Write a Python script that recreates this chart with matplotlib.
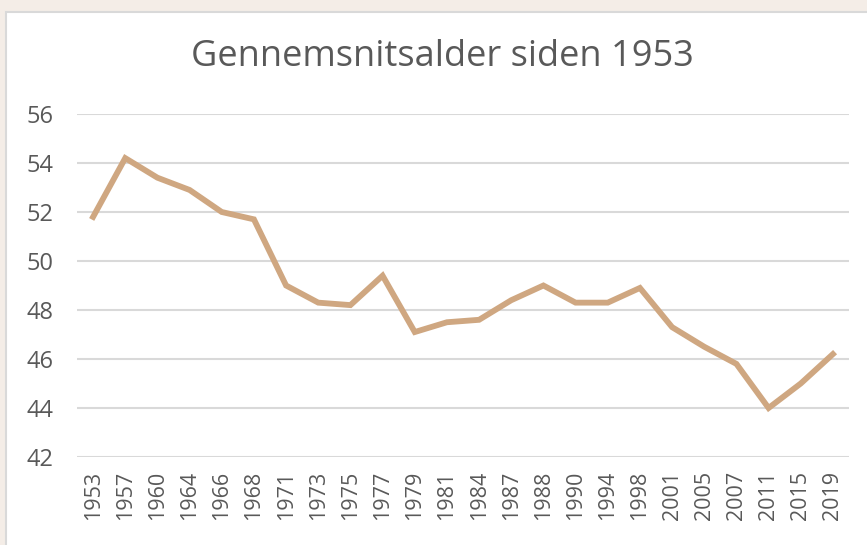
import matplotlib.pyplot as plt
from matplotlib.patches import Rectangle

###Chart data
years = ["1953", "1957", "1960", "1964", "1966", "1968", "1971", "1973", "1975", "1977",
         "1979", "1981", "1984", "1987", "1988", "1990", "1994", "1998", "2001", "2005",
         "2007", "2011", "2015", "2019"]
avg_age = [51.8, 54.2, 53.4, 52.9, 52.0, 51.7, 49.0, 48.3, 48.2, 49.4,
           47.1, 47.5, 47.6, 48.4, 49.0, 48.3, 48.3, 48.9, 47.3, 46.5,
           45.8, 44.0, 45.0, 46.2]
y_ticks = [42, 44, 46, 48, 50, 52, 54, 56]
title = "Gennemsnitsalder siden 1953"

###Styles
bg_color = '#F4EDE7'
line_color = '#CFA781'
text_color = '#595959'
grid_color = '#D9D9D9'

plt.rcParams['font.family'] = ['Open Sans', 'DejaVu Sans']

fig = plt.figure(figsize=(8.67, 5.45), dpi=100, facecolor=bg_color)
W, H = 867, 545

###White chart panel with light border (drawn behind the axes)
panel = Rectangle((6 / W, -0.01), 1.0, 1 - 12 / H + 0.01, transform=fig.transFigure,
                  facecolor='white', edgecolor=grid_color, linewidth=1.5, zorder=-10)
fig.patches.append(panel)

ax = fig.add_axes([77 / W, 1 - 457 / H, (849 - 77) / W, (457 - 114) / H])
ax.set_facecolor('none')
ax.set_zorder(1)

x = list(range(len(years)))
ax.plot(x, avg_age, color=line_color, linewidth=4.2, solid_joinstyle='miter', zorder=3)

ax.set_xlim(-0.5, len(years) - 0.5)
ax.set_ylim(42, 56)
ax.set_yticks(y_ticks)
ax.set_xticks(x)
ax.set_xticklabels(years, rotation=90)

ax.grid(axis='y', color=grid_color, linewidth=1.5)
ax.set_axisbelow(True)
for s in ax.spines.values():
    s.set_visible(False)
ax.tick_params(axis='both', length=0, colors=text_color)
ax.tick_params(axis='y', labelsize=17, pad=17)
ax.tick_params(axis='x', labelsize=15.5, pad=10)

fig.text(442 / W, 1 - 57 / H, title, ha='center', va='center',
         fontsize=26, color=text_color)

fig.savefig('out.png', dpi=100, facecolor=bg_color)
